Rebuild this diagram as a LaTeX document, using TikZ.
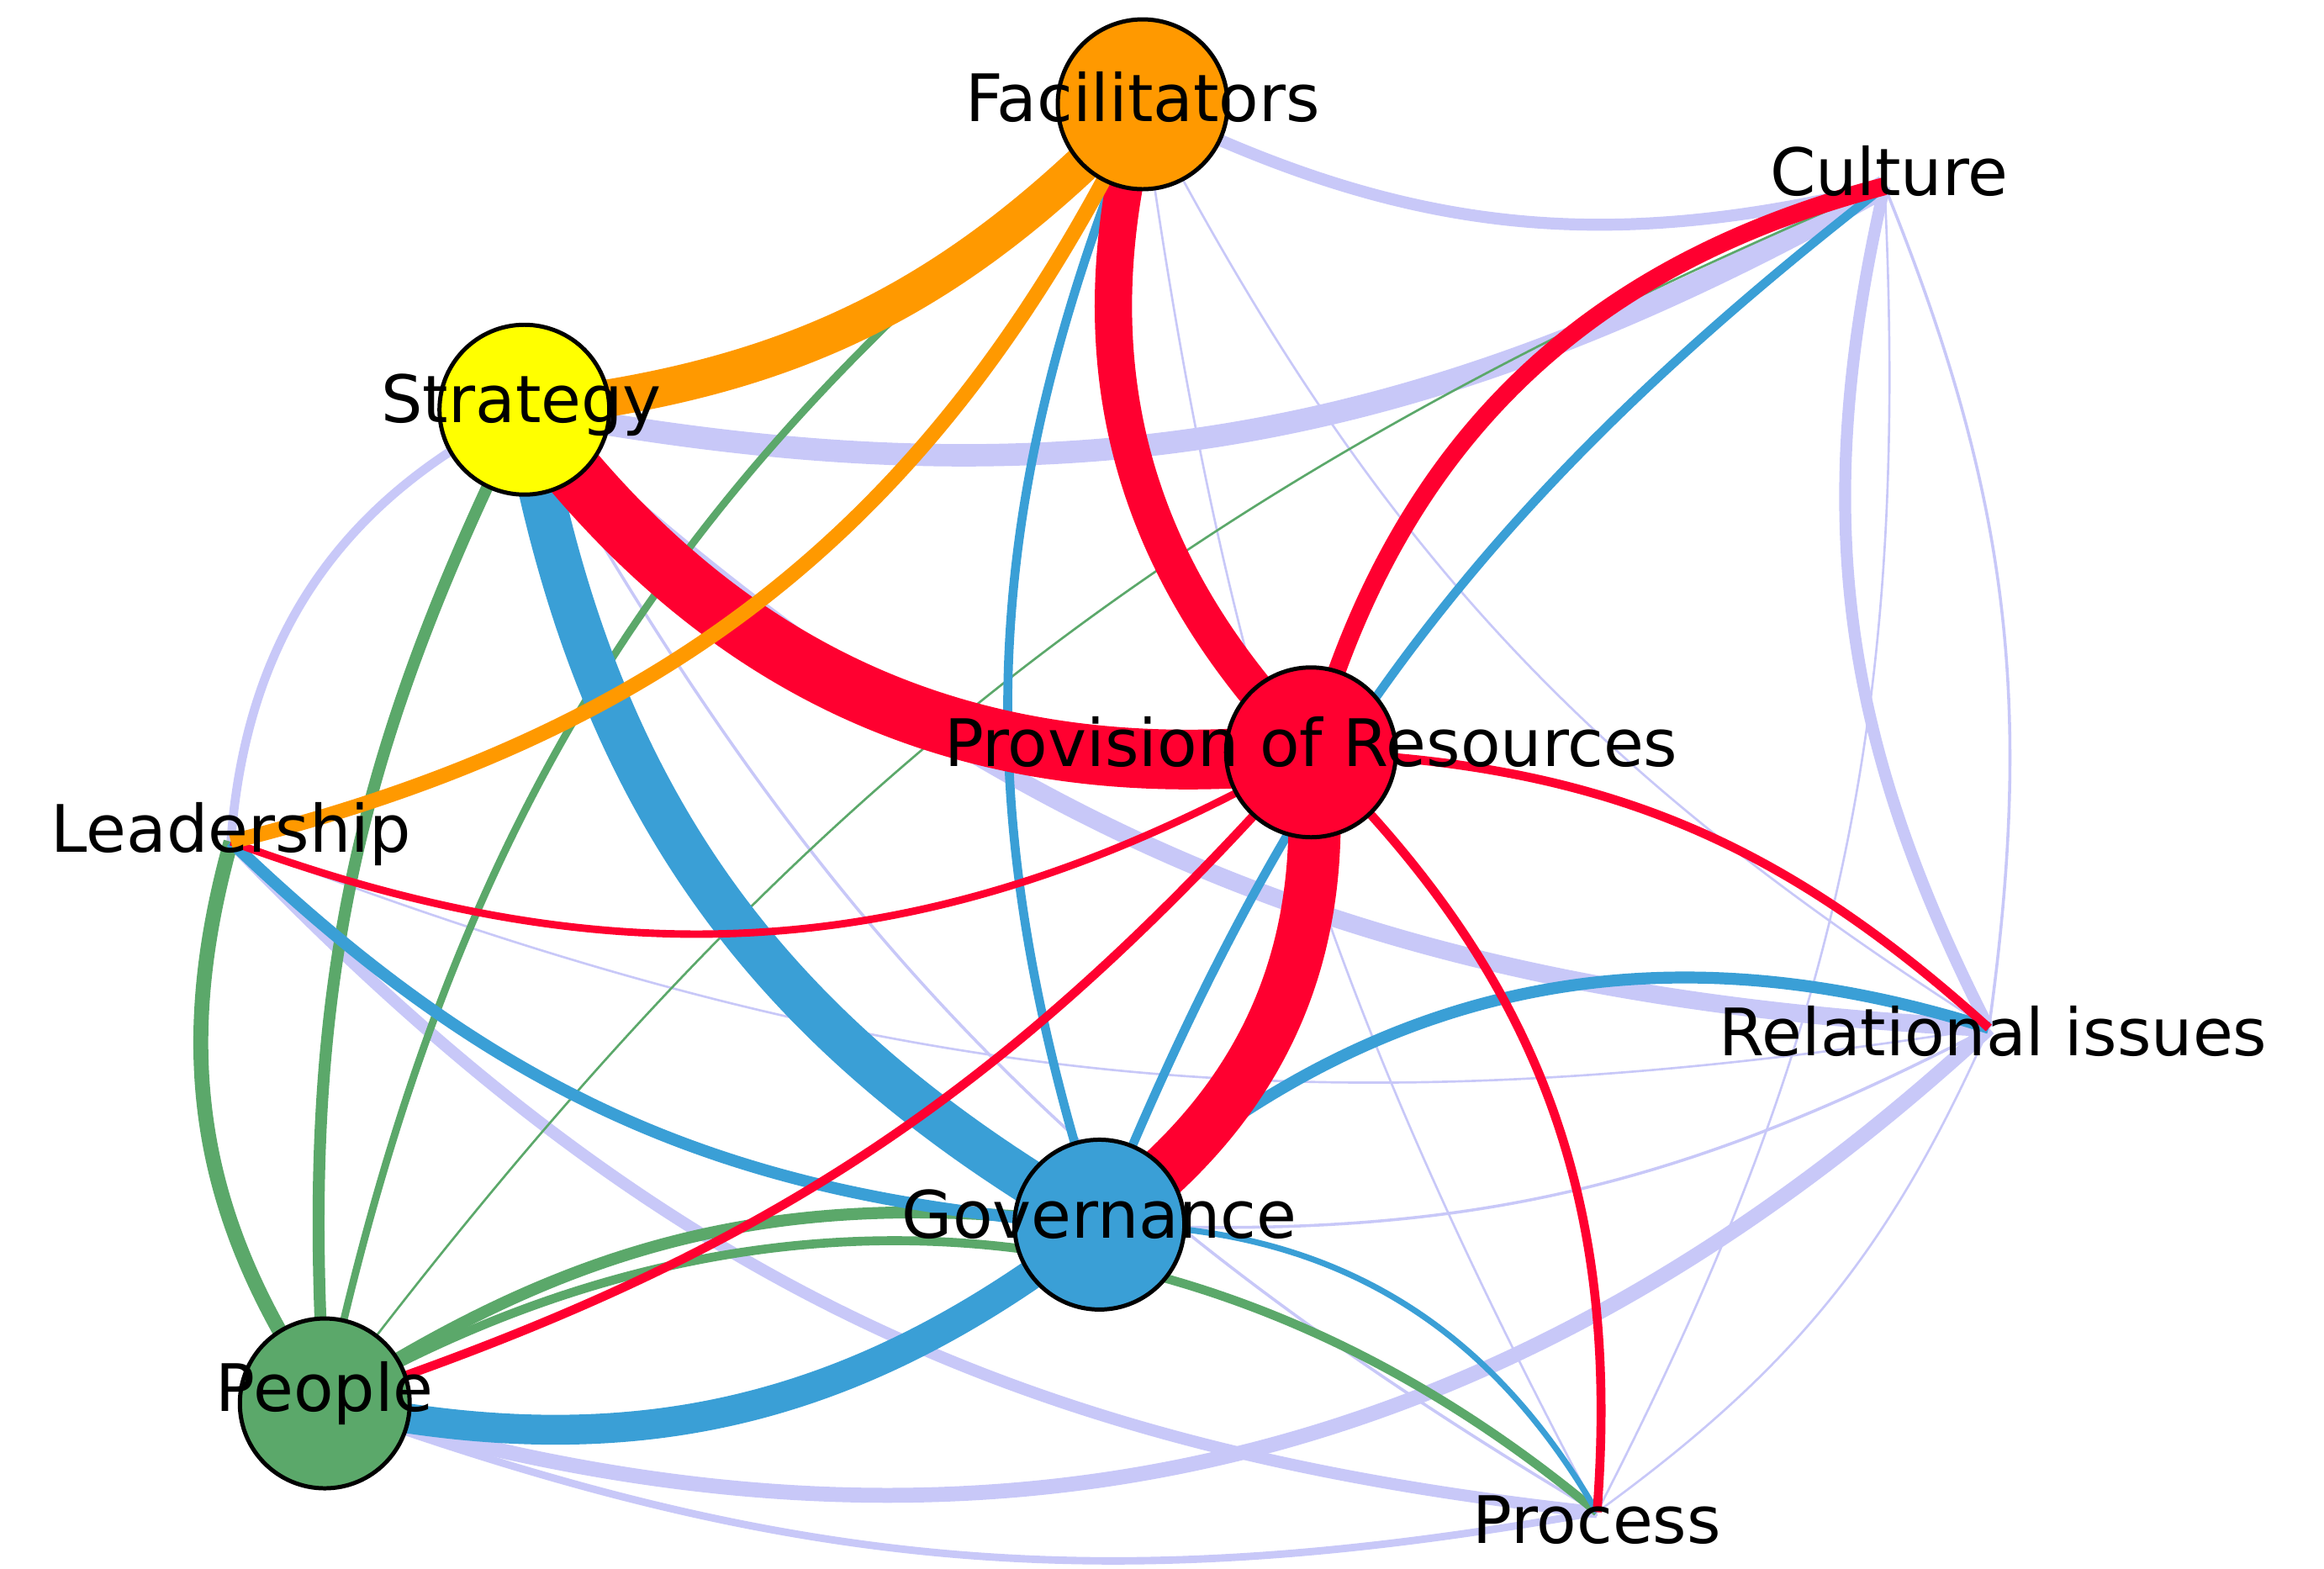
\documentclass[tikz,border=0pt]{standalone}
\usepackage{fontspec}
\setmainfont{DejaVu Sans}
\usetikzlibrary{positioning}
\definecolor{facc}{HTML}{FF9900}
\definecolor{strc}{HTML}{FFFF00}
\definecolor{provc}{HTML}{FF0030}
\definecolor{govc}{HTML}{3A9FD6}
\definecolor{peoc}{HTML}{5BA86A}
\definecolor{lavc}{HTML}{C8C8F8}
\begin{document}
\begin{tikzpicture}
    \tikzstyle{hub} = [draw, thick, circle, minimum size=1.14cm, inner sep=0pt]
    \tikzstyle{lbl} = [font=\fontsize{12.5}{15}\selectfont, inner sep=0pt]
    \tikzset{w/.style={line width=#1*0.285pt}}
    \useasboundingbox (0,0) rectangle (15.6,10.53);
    % anchor points
    \coordinate (Fac) at (7.67,9.83);
    \coordinate (Str) at (3.52,7.78);
    \coordinate (Prov) at (8.80,5.48);
    \coordinate (Gov) at (7.38,2.31);
    \coordinate (Peo) at (2.18,1.11);
    \coordinate (Cul) at (12.65,9.28);
    \coordinate (Lead) at (1.55,4.88);
    \coordinate (Rel) at (13.35,3.63);
    \coordinate (Proc) at (10.72,0.38);
    % lavender links
    \path[lavc]
        (Fac) edge[w=8, bend right=20] (Cul)
        (Str) edge[w=15, bend right=20] (Cul)
        (Str) edge[w=12, bend right=20] (Rel)
        (Str) edge[w=6, bend right=30] (Lead)
        (Cul) edge[w=8, bend right=20] (Rel)
        (Cul) edge[w=2, bend left=15] (Rel)
        (Cul) edge[w=1.5, bend left=15] (Proc)
        (Fac) edge[w=1.5, bend right=15] (Rel)
        (Fac) edge[w=1.5, bend right=10] (Proc)
        (Lead) edge[w=1.5, bend right=15] (Rel)
        (Lead) edge[w=8, bend right=20] (Proc)
        (Peo) edge[w=10, bend right=30] (Rel)
        (Peo) edge[w=5, bend right=15] (Proc)
        (Gov) edge[w=2, bend right=15] (Rel)
        (Rel) edge[w=1.5, bend left=15] (Proc)
        (Str) edge[w=2, bend right=15] (Proc);
    % green links
    \path[peoc]
        (Fac) edge[w=5, bend right=20] (Peo)
        (Str) edge[w=8, bend right=15] (Peo)
        (Lead) edge[w=10, bend right=25] (Peo)
        (Peo) edge[w=1.5, bend left=15] (Cul)
        (Peo) edge[w=8, bend left=20] (Gov)
        (Peo) edge[w=6, bend left=35] (Proc);
    % blue links
    \path[govc]
        (Str) edge[w=30, bend right=25] (Gov)
        (Peo) edge[w=20, bend right=25] (Gov)
        (Fac) edge[w=6, bend right=20] (Gov)
        (Cul) edge[w=6, bend right=15] (Gov)
        (Lead) edge[w=8, bend right=20] (Gov)
        (Gov) edge[w=8, bend left=30] (Rel)
        (Gov) edge[w=4, bend left=30] (Proc);
    % red links
    \path[provc]
        (Str) edge[w=40, bend right=30] (Prov)
        (Fac) edge[w=25, bend right=30] (Prov)
        (Prov) edge[w=35, bend left=30] (Gov)
        (Cul) edge[w=12, bend right=30] (Prov)
        (Lead) edge[w=5, bend right=25] (Prov)
        (Peo) edge[w=6, bend right=15] (Prov)
        (Prov) edge[w=6, bend left=20] (Rel)
        (Prov) edge[w=6, bend left=25] (Proc);
    % orange links
    \path[facc]
        (Fac) edge[w=25, bend left=20] (Str)
        (Fac) edge[w=10, bend left=25] (Lead);
    % hubs
    \node[hub, fill=facc] (facH) at (Fac) {};
    \node[hub, fill=strc] (strH) at (Str) {};
    \node[hub, fill=provc] (provH) at (Prov) {};
    \node[hub, fill=govc] (govH) at (Gov) {};
    \node[hub, fill=peoc] (peoH) at (Peo) {};
    % labels
    \node[lbl] (facL) at (7.67,9.88) {Facilitators};
    \node[lbl] (strL) at (3.50,7.81) {Strategy};
    \node[lbl] (provL) at (8.80,5.55) {Provision of Resources};
    \node[lbl] (govL) at (7.38,2.38) {Governance};
    \node[lbl] (peoL) at (2.18,1.18) {People};
    \node[lbl] (culL) at (12.68,9.38) {Culture};
    \node[lbl] (leadL) at (1.55,4.93) {Leadership};
    \node[lbl] (relL) at (13.38,3.61) {Relational issues};
    \node[lbl] (procL) at (10.72,0.33) {Process};
\end{tikzpicture}
\end{document}
